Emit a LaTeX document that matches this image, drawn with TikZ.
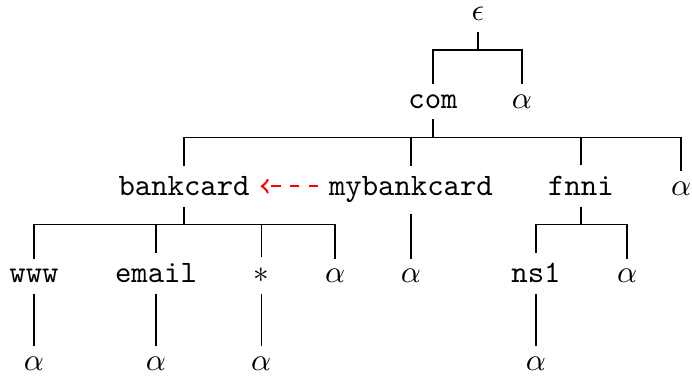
\documentclass[tikz,border=0pt]{standalone}
\usetikzlibrary{arrows}
\begin{document}
\begin{tikzpicture}[x=1pt,y=1pt]
\tikzstyle{branche}=[thin]
\tikzstyle{renvoi}=[->,red,dashed,thick]
\tikzset{noeud/.style={anchor=base}}
\useasboundingbox (0,0) rectangle (221.8,-121.2);
% niveau 0 et 1
\node [noeud] (eps) at (153.2,-6.7) {$\epsilon$};
\node [noeud] (com) at (138.8,-34.7) {\texttt{com}};
\node [noeud] (epsA) at (167.3,-34.7) {$\alpha$};
% niveau 2
\node [noeud] (bankcard) at (59.0,-62.7) {\texttt{bankcard}};
\node [noeud] (mybankcard) at (131.7,-62.7) {\texttt{mybankcard}};
\node [noeud] (fnni) at (186.2,-62.7) {\texttt{fnni}};
\node [noeud] (comA) at (218.3,-62.7) {$\alpha$};
% niveau 3
\node [noeud] (www) at (10.9,-90.7) {\texttt{www}};
\node [noeud] (email) at (50.0,-90.7) {\texttt{email}};
\node [noeud] (star) at (83.7,-90.7) {$*$};
\node [noeud] (bankcardA) at (107.4,-90.7) {$\alpha$};
\node [noeud] (mybankcardA) at (131.7,-90.7) {$\alpha$};
\node [noeud] (ns1) at (171.8,-90.7) {\texttt{ns1}};
\node [noeud] (fnniA) at (201.0,-90.7) {$\alpha$};
% niveau 4
\node [noeud] (wwwA) at (10.9,-118.7) {$\alpha$};
\node [noeud] (emailA) at (50.0,-118.7) {$\alpha$};
\node [noeud] (starA) at (83.7,-118.7) {$\alpha$};
\node [noeud] (ns1A) at (171.8,-118.7) {$\alpha$};
\foreach \p/\c in {eps/com,eps/epsA,com/bankcard,com/mybankcard,com/fnni,com/comA,
  bankcard/www,bankcard/email,bankcard/star,bankcard/bankcardA,mybankcard/mybankcardA,
  fnni/ns1,fnni/fnniA,www/wwwA,email/emailA,star/starA,ns1/ns1A}
  \draw [branche] (\p.south) -- ([yshift=-9.3pt]\p.base) -| (\c.north);
\draw [renvoi] (mybankcard.west |- bankcard.east) -- (bankcard.east);
\end{tikzpicture}
\end{document}
